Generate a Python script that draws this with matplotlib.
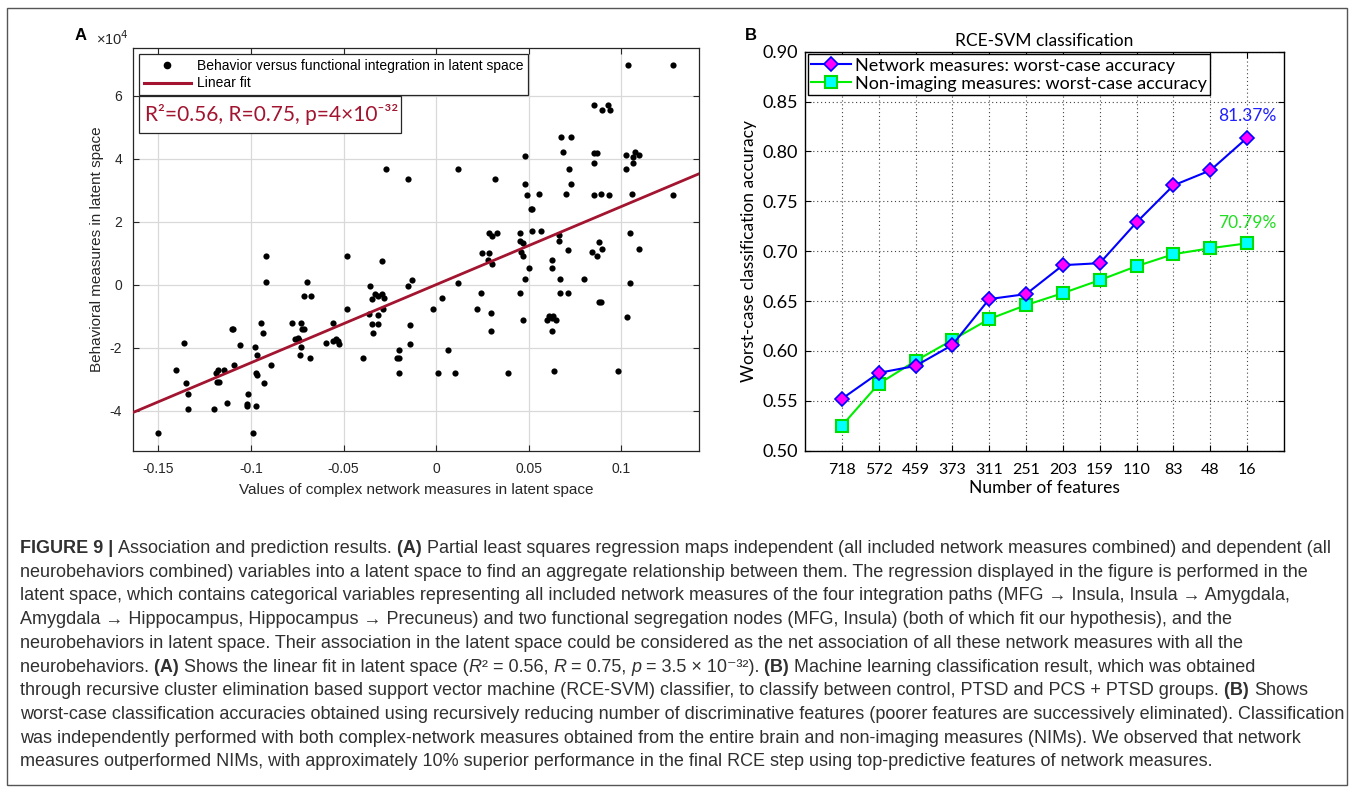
import numpy as np
import matplotlib
matplotlib.use("Agg")
import matplotlib.pyplot as plt
from matplotlib.lines import Line2D
from matplotlib.patches import Rectangle
from matplotlib.transforms import IdentityTransform

# ---- panel A data (x: network measures, y: behavioral measures, in units of 1e4)
net_x = [-0.150, -0.1406, -0.136, -0.1352, -0.134, -0.134, -0.1197, -0.119, -0.1185, -0.1175,
         -0.1176, -0.1143, -0.113, -0.1103, -0.1095, -0.1092, -0.106, -0.1017, -0.1022, -0.1022,
         -0.0991, -0.0979, -0.0968, -0.0973, -0.0965, -0.097, -0.0929, -0.0944, -0.0937, -0.0919,
         -0.0919, -0.0889, -0.0776, -0.0760, -0.0748, -0.0741, -0.0734, -0.0727, -0.0727, -0.0722,
         -0.0712, -0.0697, -0.0716, -0.0676, -0.068, -0.0595, -0.0555, -0.0557, -0.0543, -0.0530,
         -0.0527, -0.048, -0.048, -0.0393, -0.0355, -0.0348, -0.0330, -0.0315, -0.0360, -0.0346,
         -0.0342, -0.0315, -0.0315, -0.0294, -0.0294, -0.0282, -0.0287, -0.0212, -0.0202, -0.0202,
         -0.0202,
         -0.0153, -0.0128, -0.0142, -0.0142, -0.0018, 0.0009, 0.0032, 0.0065, 0.0102, 0.012,
         0.022, 0.0245, 0.025, 0.0288, 0.0285, 0.030, 0.033, 0.0283, 0.030, 0.0296,
         0.0296, 0.0389, 0.0455, 0.0455, 0.0467, 0.046, 0.047, 0.0518, 0.0569, 0.050,
         0.0482, 0.0455, 0.047, 0.0663, 0.0663, 0.0625, 0.0625, 0.067, 0.067, 0.0711,
         0.0711, 0.0610, 0.0600, 0.0630, 0.0650, 0.0625, 0.0625, 0.0638, 0.0799, 0.0842,
         0.0868, 0.088, 0.0898, 0.0880, 0.0890, 0.0984, 0.103, 0.1045, 0.105, 0.1098,
         -0.0272, -0.0153, 0.012, 0.0319, 0.0479, 0.0479, 0.049, 0.0555, 0.0512, 0.0518,
         0.0675, 0.073, 0.0684, 0.0718, 0.073, 0.070, 0.0855, 0.0898, 0.093, 0.094,
         0.0855, 0.0868, 0.0855, 0.0855, 0.0891, 0.0936, 0.1024, 0.1075, 0.1098, 0.1066,
         0.1066, 0.1024, 0.106, 0.1034, 0.128, 0.1277]
behav_y = [-4.71, -2.71, -1.83, -3.10, -3.47, -3.95, -3.95, -2.81, -3.07, -3.07,
           -2.70, -2.70, -3.76, -1.41, -1.41, -2.55, -1.90, -3.46, -3.78, -3.85,
           -4.71, -1.96, -2.23, -2.80, -2.87, -3.83, -3.10, -1.20, -1.53, 0.91,
           0.08, -2.55, -1.20, -1.72, -1.68, -1.75, -2.23, -1.20, -1.96, -1.41,
           -1.41, 0.08, -0.34, -0.34, -2.33, -1.83, -1.20, -1.78, -1.72, -1.78,
           -1.88, 0.91, -0.76, -2.33, -0.04, -0.45, -0.30, -0.34, -0.92, -1.23,
           -1.53, -0.94, -1.23, 0.76, -0.30, -0.40, -0.76, -2.33, -2.33, -2.05,
           -2.79,
           -0.04, 0.17, -1.28, -1.86, -0.76, -2.78, -0.43, -2.05, -2.81, 0.06,
           -0.76, -0.25, 1.01, 1.01, 1.66, 1.56, 1.66, 0.80, 0.66, -0.88,
           -1.46, -2.81, 1.66, 1.38, 1.33, 1.05, 0.92, 1.72, 1.72, 0.54,
           0.18, -0.25, -1.10, 1.59, 1.38, 0.80, 0.54, 0.18, -0.25, -0.25,
           1.10, -1.00, -1.10, -0.98, -1.12, -1.05, -1.46, -2.73, 0.18, 1.06,
           0.93, 1.35, 1.14, -0.55, -0.55, -2.73, -1.01, 0.06, 1.66, 1.14,
           3.68, 3.35, 3.68, 3.35, 4.08, 3.21, 2.85, 2.88, 2.40, 2.40,
           4.70, 4.70, 4.23, 3.68, 3.21, 2.88, 5.70, 5.55, 5.70, 5.55,
           4.20, 4.20, 3.86, 2.85, 2.88, 2.85, 4.12, 4.23, 4.12, 4.07,
           3.86, 3.68, 2.88, 6.97, 6.97, 2.85]
fit_text = "R²=0.56, R=0.75, p=4×10⁻³²"

# ---- panel B data
n_features = ["718", "572", "459", "373", "311", "251", "203", "159", "110", "83", "48", "16"]
acc_network = [0.552, 0.578, 0.585, 0.606, 0.652, 0.657, 0.686, 0.688, 0.729, 0.766, 0.781, 0.8137]
acc_nonimaging = [0.525, 0.567, 0.590, 0.611, 0.632, 0.646, 0.658, 0.671, 0.685, 0.697, 0.703, 0.7079]

# ---- caption, one list of (text, bold, italic) runs per printed line
caption = [
    [("FIGURE 9 | ", True, False), ("Association and prediction results. ", False, False), ("(A) ", True, False),
     ("Partial least squares regression maps independent (all included network measures combined) and dependent (all", False, False)],
    [("neurobehaviors combined) variables into a latent space to find an aggregate relationship between them. The regression displayed in the figure is performed in the", False, False)],
    [("latent space, which contains categorical variables representing all included network measures of the four integration paths (MFG → Insula, Insula → Amygdala,", False, False)],
    [("Amygdala → Hippocampus, Hippocampus → Precuneus) and two functional segregation nodes (MFG, Insula) (both of which fit our hypothesis), and the", False, False)],
    [("neurobehaviors in latent space. Their association in the latent space could be considered as the net association of all these network measures with all the", False, False)],
    [("neurobehaviors. ", False, False), ("(A) ", True, False), ("Shows the linear fit in latent space (", False, False), ("R", False, True),
     ("² = 0.56, ", False, False), ("R", False, True), (" = 0.75, ", False, False), ("p", False, True),
     (" = 3.5 × 10⁻³²). ", False, False), ("(B) ", True, False), ("Machine learning classification result, which was obtained", False, False)],
    [("through recursive cluster elimination based support vector machine (RCE-SVM) classifier, to classify between control, PTSD and PCS + PTSD groups. ", False, False),
     ("(B) ", True, False), ("Shows", False, False)],
    [("worst-case classification accuracies obtained using recursively reducing number of discriminative features (poorer features are successively eliminated). Classification", False, False)],
    [("was independently performed with both complex-network measures obtained from the entire brain and non-imaging measures (NIMs). We observed that network", False, False)],
    [("measures outperformed NIMs, with approximately 10% superior performance in the final RCE step using top-predictive features of network measures.", False, False)],
]

W, H = 1355, 793
fig = plt.figure(figsize=(W / 100, H / 100), dpi=100)
arial = ["Liberation Sans", "DejaVu Sans"]
calibri = ["Lato", "DejaVu Sans"]
mgray = "#262626"

def px_axes(l, t, r, b):
    return fig.add_axes([l / W, 1 - b / H, (r - l) / W, (b - t) / H])

# ================= panel A =================
ax = px_axes(133, 48, 699, 451)
ax.scatter(net_x, behav_y, s=20, color="black", zorder=3, linewidths=0)
coef = np.polyfit(net_x, behav_y, 1)
xl = np.array([-0.1637, 0.142])
ax.plot(xl, np.polyval(coef, xl), color="#a2142f", lw=2.0, zorder=4)
ax.set_xlim(-0.1637, 0.142)
ax.set_ylim(-5.27, 7.52)
ax.set_xticks([-0.15, -0.1, -0.05, 0, 0.05, 0.1])
ax.set_xticklabels(["-0.15", "-0.1", "-0.05", "0", "0.05", "0.1"])
ax.set_yticks([-4, -2, 0, 2, 4, 6])
ax.set_yticklabels(["-4", "-2", "0", "2", "4", "6"])
ax.grid(True, color="#d9d9d9", lw=0.9)
ax.set_axisbelow(True)
ax.tick_params(direction="in", top=True, right=True, length=4, width=0.8,
               labelsize=10, colors=mgray, pad=8)
for lab in ax.get_xticklabels() + ax.get_yticklabels():
    lab.set_family(arial)
for sp in ax.spines.values():
    sp.set_color(mgray)
    sp.set_linewidth(0.9)
ax.set_xlabel("Values of complex network measures in latent space", fontsize=11, family=arial,
              color=mgray, labelpad=5)
ax.set_ylabel("Behavioral measures in latent space", fontsize=11, family=arial, color=mgray, labelpad=4)
fig.text(96 / W, 1 - 39 / H, "×10$^4$", fontsize=10.5, family=arial, color=mgray, va="center")

handles = [Line2D([], [], ls="none", marker="o", ms=4.5, color="black"),
           Line2D([], [], color="#a2142f", lw=2.2)]
leg = ax.legend(handles, ["Behavior versus functional integration in latent space", "Linear fit"],
                loc="upper left", bbox_to_anchor=(0.0106, 0.985), borderaxespad=0,
                prop={"family": "Liberation Sans", "size": 10}, fancybox=False, framealpha=1,
                edgecolor=mgray, handlelength=3.4, handletextpad=0.4, labelspacing=0.25,
                borderpad=0.35)
leg.get_frame().set_linewidth(0.9)
leg.set_zorder(6)
bx0, bx1 = (139 - 133) / 566, (401 - 133) / 566
by0, by1 = (451 - 133) / 403, (451 - 96) / 403
ax.add_patch(Rectangle((bx0, by0), bx1 - bx0, by1 - by0, transform=ax.transAxes,
                       facecolor="white", edgecolor=mgray, lw=0.9, zorder=6))
ax.text(bx0 + 0.01, (by0 + by1) / 2, fit_text, transform=ax.transAxes, fontsize=15,
        family=calibri, color="#a2142f", va="center", zorder=7)

# ================= panel B =================
bx = px_axes(805, 51.7, 1284, 450.7)
pos = np.arange(1, len(n_features) + 1)
bx.plot(pos, acc_network, color="#0000ff", lw=1.5, marker="D", ms=7.5, mfc="#ff00ff",
        mec="#0000ff", mew=1.2, label="Network measures: worst-case accuracy", zorder=4)
bx.plot(pos, acc_nonimaging, color="#00ee00", lw=1.5, marker="s", ms=8, mfc="#00ffff",
        mec="#00dd00", mew=1.5, label="Non-imaging measures: worst-case accuracy", zorder=3)
bx.set_xlim(0, len(n_features) + 1)
bx.set_ylim(0.5, 0.9)
bx.set_xticks(pos)
bx.set_xticklabels(n_features)
bx.set_yticks(np.arange(0.5, 0.901, 0.05))
bx.set_yticklabels(["%.2f" % v for v in np.arange(0.5, 0.901, 0.05)])
bx.grid(True, color="#444444", lw=0.8, ls=(0, (1, 2.5)))
bx.set_axisbelow(True)
bx.tick_params(direction="in", top=True, right=True, length=4, width=0.8, colors="black")
bx.tick_params(axis="y", labelsize=13, pad=5)
bx.tick_params(axis="x", labelsize=11.5, pad=9)
for lab in bx.get_xticklabels() + bx.get_yticklabels():
    lab.set_family(calibri)
for sp in bx.spines.values():
    sp.set_linewidth(1.0)
bx.set_title("RCE-SVM classification", fontsize=12.5, family=calibri, pad=4)
bx.set_xlabel("Number of features", fontsize=12.5, family=calibri, labelpad=2)
bx.set_ylabel("Worst-case classification accuracy", fontsize=12.5, family=calibri, labelpad=4)
bx.annotate("%.2f%%" % (acc_network[-1] * 100), (pos[-1], acc_network[-1]), xytext=(0, 12),
            textcoords="offset points", ha="center", fontsize=12.5, family=calibri, color="#1f1fff")
bx.annotate("%.2f%%" % (acc_nonimaging[-1] * 100), (pos[-1], acc_nonimaging[-1]), xytext=(0, 11),
            textcoords="offset points", ha="center", fontsize=12.5, family=calibri, color="#22dd22")
leg2 = bx.legend(loc="upper left", bbox_to_anchor=(0.006, 0.994), borderaxespad=0,
                 prop={"family": "Lato", "size": 13}, fancybox=False, framealpha=1,
                 edgecolor="black", handlelength=2.2, handletextpad=0.2, labelspacing=0.1,
                 borderpad=0.2)
leg2.get_frame().set_linewidth(1.0)

fig.text(75 / W, 1 - 35 / H, "A", fontsize=12, weight="bold", family=arial, va="center")
fig.text(745 / W, 1 - 35 / H, "B", fontsize=12, weight="bold", family=arial, va="center")

# ================= frame and caption =================
fig.add_artist(Rectangle((7, 8), W - 15, H - 16, transform=IdentityTransform(), fill=False,
                         edgecolor="#555555", lw=1.0))
renderer = fig.canvas.get_renderer()
cap_family = ["Liberation Sans Narrow", "Liberation Sans", "DejaVu Sans"]
cap_size = 13.0
bar = fig.text(0, 0, "|", fontsize=cap_size, family=cap_family)
bar_w = bar.get_window_extent(renderer).width
bar.remove()
y0 = H - 553
for i, line in enumerate(caption):
    x = 20
    y = y0 - i * 23.7
    for txt, bold, ital in line:
        t = fig.text(x, y, txt, transform=IdentityTransform(), fontsize=cap_size, family=cap_family,
                     weight="bold" if bold else "normal", style="italic" if ital else "normal",
                     color="#303030", va="baseline")
        m = fig.text(0, 0, txt + "|", transform=IdentityTransform(), fontsize=cap_size,
                     family=cap_family, weight="bold" if bold else "normal",
                     style="italic" if ital else "normal")
        x += m.get_window_extent(renderer).width - bar_w
        m.remove()

fig.savefig("out.png", dpi=100)
